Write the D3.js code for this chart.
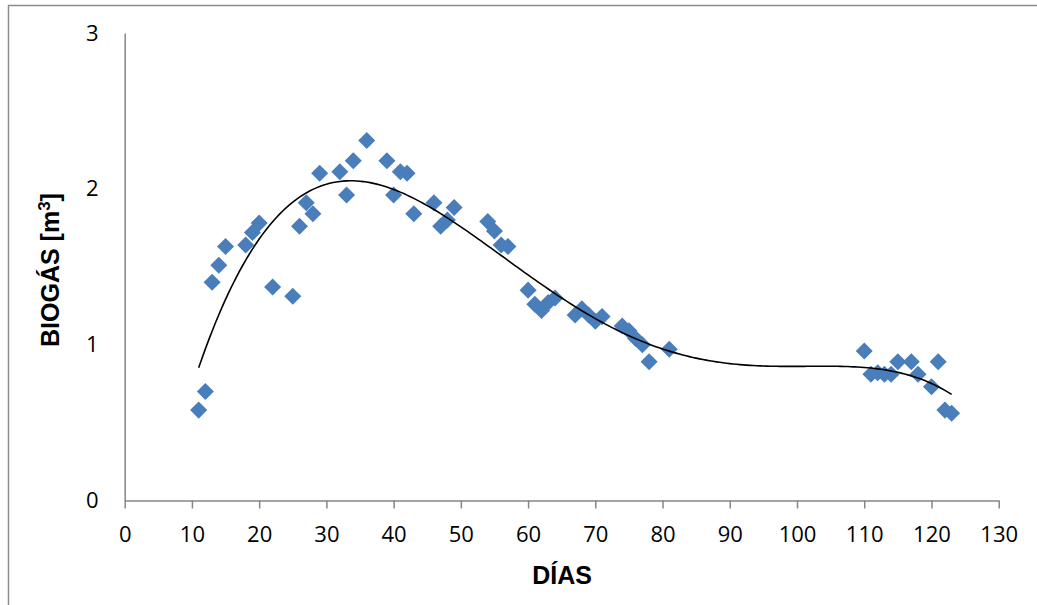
<!DOCTYPE html>
<html>
<head>
<meta charset="utf-8">
<script src="https://cdn.jsdelivr.net/npm/d3@7"></script>
<style>
  body { margin: 0; background: #fff; }
  svg { display: block; }
</style>
</head>
<body>
<div id="chart"></div>
<script>
// Data
const days = [11, 12, 13, 14, 15, 18, 19, 20, 22, 25, 26, 27, 28, 29, 32, 33, 34, 36, 39, 40,
              41, 42, 43, 46, 47, 48, 49, 54, 55, 56, 57, 60, 61, 62, 63, 64, 67, 68, 69, 70,
              71, 74, 75, 76, 77, 78, 81, 110, 111, 112, 113, 114, 115, 117, 118, 120, 121, 122, 123];
const biogas = [0.58, 0.70, 1.40, 1.51, 1.63, 1.64, 1.72, 1.78, 1.37, 1.31, 1.76, 1.91, 1.84, 2.10, 2.11, 1.96, 2.18, 2.31, 2.18, 1.96,
                2.11, 2.10, 1.84, 1.91, 1.76, 1.80, 1.88, 1.79, 1.73, 1.64, 1.63, 1.35, 1.26, 1.22, 1.27, 1.30, 1.19, 1.23, 1.19, 1.15,
                1.18, 1.12, 1.09, 1.04, 1.00, 0.89, 0.97, 0.96, 0.81, 0.82, 0.81, 0.81, 0.89, 0.89, 0.81, 0.73, 0.89, 0.58, 0.56];
const xTicks = d3.range(0, 131, 10);
const yTicks = [0, 1, 2, 3];
const trendOrder = 4;   // polynomial trend line, fitted to the points

const width = 1037, height = 605;
const margin = { left: 124.7, top: 33, right: 1037 - 998.7, bottom: 605 - 500.5 };

const svg = d3.select('#chart').append('svg')
    .attr('width', width)
    .attr('height', height);

// outer chart border (right/bottom edges fall outside the picture)
svg.append('rect')
    .attr('x', 8.5).attr('y', 5.5)
    .attr('width', 1040).attr('height', 610)
    .attr('fill', 'none')
    .attr('stroke', '#8c8c8c')
    .attr('stroke-width', 1.5);

const x = d3.scaleLinear().domain([0, 130]).range([margin.left, width - margin.right]);
const y = d3.scaleLinear().domain([0, 3]).range([height - margin.bottom, margin.top]);

// least squares polynomial fit (trend line), x normalised for stability
function polyFit(xs, ys, order) {
    const mid = 65, half = 65;
    const n = order + 1;
    const A = Array.from({ length: n }, () => new Array(n + 1).fill(0));
    xs.forEach((xv, i) => {
        const t = (xv - mid) / half;
        const p = [];
        for (let k = 0; k < n; k++) p.push(Math.pow(t, k));
        for (let r = 0; r < n; r++) {
            for (let c = 0; c < n; c++) A[r][c] += p[r] * p[c];
            A[r][n] += p[r] * ys[i];
        }
    });
    for (let c = 0; c < n; c++) {
        let piv = c;
        for (let r = c + 1; r < n; r++) if (Math.abs(A[r][c]) > Math.abs(A[piv][c])) piv = r;
        [A[c], A[piv]] = [A[piv], A[c]];
        for (let r = 0; r < n; r++) {
            if (r === c) continue;
            const f = A[r][c] / A[c][c];
            for (let k = c; k <= n; k++) A[r][k] -= f * A[c][k];
        }
    }
    const coef = A.map((row, i) => row[n] / row[i]);
    return xv => {
        const t = (xv - mid) / half;
        return coef.reduce((s, a, k) => s + a * Math.pow(t, k), 0);
    };
}

// axes
const axisColor = '#868686';
const gx = svg.append('g')
    .attr('transform', `translate(0,${y(0)})`)
    .call(d3.axisBottom(x).tickValues(xTicks).tickSize(8).tickPadding(18).tickSizeOuter(0));
const gy = svg.append('g')
    .attr('transform', `translate(${x(0)},0)`)
    .call(d3.axisLeft(y).tickValues(yTicks).tickSize(0).tickPadding(26).tickFormat(d3.format('d')));

[gx, gy].forEach(g => {
    g.select('.domain').attr('stroke', axisColor).attr('stroke-width', 1.5);
    g.selectAll('.tick line').attr('stroke', axisColor).attr('stroke-width', 1.5);
    g.selectAll('.tick text')
        .attr('fill', '#000')
        .style('font-family', '"Open Sans", "Liberation Sans", sans-serif')
        .style('font-size', '22px');
});

// markers
svg.append('g')
    .selectAll('path')
    .data(days.map((d, i) => [d, biogas[i]]))
    .enter().append('path')
    .attr('d', d3.symbol().type(d3.symbolSquare).size(145))
    .attr('transform', d => `translate(${x(d[0])},${y(d[1])}) rotate(45)`)
    .attr('fill', '#4a7ebb');

// trend line
const trend = polyFit(days, biogas, trendOrder);
const trendPts = d3.range(d3.min(days), d3.max(days) + 0.01, 0.5).map(v => [v, trend(v)]);
svg.append('path')
    .attr('d', d3.line().x(d => x(d[0])).y(d => y(d[1]))(trendPts))
    .attr('fill', 'none')
    .attr('stroke', '#000')
    .attr('stroke-width', 1.6);

// axis titles
svg.append('text')
    .attr('x', 562).attr('y', 584)
    .attr('text-anchor', 'middle')
    .style('font-family', 'Arial, "Liberation Sans", sans-serif')
    .style('font-weight', 'bold')
    .style('font-size', '25px')
    .text('DÍAS');

const yTitle = svg.append('text')
    .attr('transform', 'translate(59,270) rotate(-90)')
    .attr('text-anchor', 'middle')
    .style('font-family', 'Arial, "Liberation Sans", sans-serif')
    .style('font-weight', 'bold')
    .style('font-size', '25px');
yTitle.append('tspan').text('BIOGÁS [m');
yTitle.append('tspan').attr('dy', -9).style('font-size', '17px').text('3');
yTitle.append('tspan').attr('dy', 9).text(']');
</script>
</body>
</html>
